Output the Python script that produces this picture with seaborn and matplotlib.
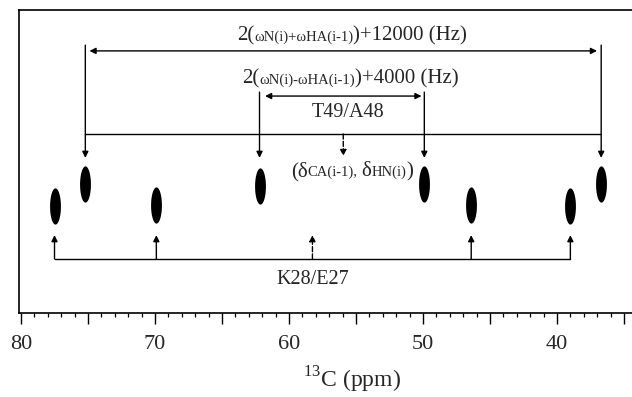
import numpy as np
import pandas as pd
import matplotlib
matplotlib.use("Agg")
import matplotlib.pyplot as plt
import seaborn as sns
from matplotlib.path import Path
from matplotlib.ticker import MultipleLocator, FuncFormatter
from matplotlib.transforms import offset_copy

# peaks: 13C shift (ppm) and HN position (arbitrary units, 0-100 of the plot height)
t49_c = [75.2, 62.2, 49.9, 36.7]
t49_hn = [42.6, 41.9, 42.6, 42.6]
k28_c = [77.5, 69.9, 46.4, 39.0]
k28_hn = [35.3, 35.6, 35.6, 35.3]

x_ticks = [80, 70, 60, 50, 40]

label_outer = [("2(", 15), ("ωN(i)+ωHA(i-1)", 10.5), (")+12000 (Hz)", 15)]
label_inner = [("2(", 15), ("ωN(i)-ωHA(i-1)", 10.5), (")+4000 (Hz)", 15)]
label_pair = [("(δ", 15), ("CA(i-1),", 10.5), (None, 4), ("δ", 15), ("HN(i)", 10.5), (")", 15)]
label_t49 = "T49/A48"
label_k28 = "K28/E27"


def rich_text(ax, x, y, pieces):
    """Draw text made of pieces of different sizes, centred on x."""
    fig = ax.figure
    renderer = fig.canvas.get_renderer()
    items = []
    for s, size in pieces:
        if s is None:
            items.append((None, size))
            continue
        t = ax.text(x, y, s, fontsize=size, ha="left", va="baseline")
        items.append((t, t.get_window_extent(renderer).width))
    total = sum(w for _, w in items)
    off = -total / 2
    for t, w in items:
        if t is not None:
            t.set_transform(offset_copy(ax.transData, fig=fig, x=off, y=0, units="dots"))
        off += w


def arrow(ax, start, end, style="-|>", ls="-", sa=0, sb=0):
    ax.annotate(
        "", xy=end, xytext=start,
        arrowprops=dict(arrowstyle=style, lw=1.0, color="black", linestyle=ls,
                        mutation_scale=9, shrinkA=sa, shrinkB=sb),
    )


df = pd.DataFrame({
    "c13": t49_c + k28_c,
    "hn": t49_hn + k28_hn,
    "pair": ["T49/A48"] * 4 + ["K28/E27"] * 4,
})

sns.set_theme(style="ticks")
plt.rcParams["font.family"] = ["Liberation Serif", "DejaVu Serif"]
plt.rcParams["mathtext.fontset"] = "custom"
plt.rcParams["mathtext.rm"] = "Liberation Serif"

fig = plt.figure(figsize=(6.32, 3.97), dpi=100)
ax = fig.add_axes([19 / 632, 84 / 397, 1 - 19 / 632, 303 / 397])

# elongated peak marker
theta = np.linspace(0, 2 * np.pi, 60)
ellipse = Path(np.column_stack([0.15 * np.cos(theta), 0.5 * np.sin(theta)]))

sns.scatterplot(data=df, x="c13", y="hn", marker=ellipse, s=680, color="black",
                linewidth=0, legend=False, ax=ax)

ax.set_xlim(80.15, 34.4)
ax.set_ylim(0, 100)
ax.set_yticks([])
ax.set_xlabel("")
ax.set_ylabel("")

ax.xaxis.set_major_locator(MultipleLocator(5))
ax.xaxis.set_minor_locator(MultipleLocator(1))
ax.xaxis.set_major_formatter(FuncFormatter(lambda v, p: f"{v:.0f}" if round(v) in x_ticks else ""))
ax.tick_params(axis="x", which="major", direction="out", length=8, width=1.0,
               labelsize=16, pad=8, color="black", bottom=True)
ax.tick_params(axis="x", which="minor", direction="out", length=3, width=0.9,
               color="black", bottom=True)
for side in ["left", "top", "bottom"]:
    ax.spines[side].set_color("black")
    ax.spines[side].set_linewidth(1.2)
ax.spines["right"].set_visible(False)

# T49/A48 pattern (arrows from above)
y_top_outer, y_top_inner, y_line, y_tip = 88.4, 72.9, 59.1, 51.2
mid_t = (t49_c[0] + t49_c[-1]) / 2
for i, c in enumerate(t49_c):
    top = y_top_outer if i in (0, 3) else y_top_inner
    arrow(ax, (c, top), (c, y_tip))
ax.plot([t49_c[0], t49_c[-1]], [y_line, y_line], color="black", lw=1.0)
arrow(ax, (mid_t, y_line), (mid_t, y_tip + 0.6), ls="--")
arrow(ax, (t49_c[0], 86.5), (t49_c[-1], 86.5), style="<|-|>", sa=3, sb=3)
arrow(ax, (t49_c[1], 71.6), (t49_c[2], 71.6), style="<|-|>", sa=4, sb=2)

rich_text(ax, 55.3, 89.8, label_outer)
rich_text(ax, 55.4, 75.6, label_inner)
ax.text(55.6, 66.2, label_t49, fontsize=14.5, ha="center", va="center")
rich_text(ax, 55.3, 45.2, label_pair)

# K28/E27 pattern (arrows from below)
y_base, y_up = 17.8, 25.7
mid_k = (k28_c[0] + k28_c[-1]) / 2
ax.plot([k28_c[0], k28_c[-1]], [y_base, y_base], color="black", lw=1.0)
for c in k28_c:
    arrow(ax, (c, y_base), (c, y_up))
arrow(ax, (mid_k, y_base), (mid_k, y_up), ls="--")
ax.text(mid_k, 10.9, label_k28, fontsize=14.5, ha="center", va="center")

ax.text(0.543, -0.222, "$^{13}$C (ppm)", transform=ax.transAxes, fontsize=17,
        ha="center", va="center")

fig.savefig("out.png", dpi=100)
